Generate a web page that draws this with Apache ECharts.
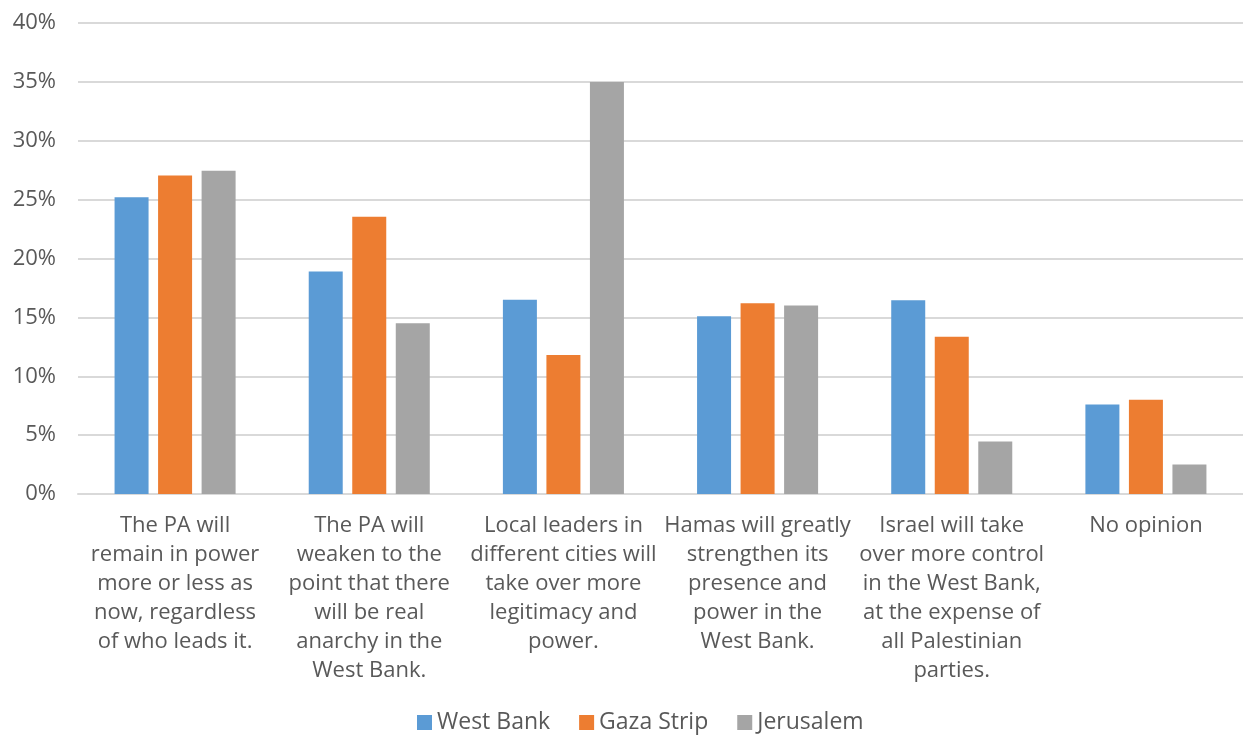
<!DOCTYPE html>
<html>
<head>
<meta charset="utf-8">
<script src="https://cdn.jsdelivr.net/npm/echarts@6/dist/echarts.min.js"></script>
<style>
html,body{margin:0;padding:0;background:#fff;}
#c{width:1243px;height:735px;}
</style>
</head>
<body>
<div id="c"></div>
<script>
var categories = [
  "The PA will\nremain in power\nmore or less as\nnow, regardless\nof who leads it.",
  "The PA will\nweaken to the\npoint that there\nwill be real\nanarchy in the\nWest Bank.",
  "Local leaders in\ndifferent cities will\ntake over more\nlegitimacy and\npower.",
  "Hamas will greatly\nstrengthen its\npresence and\npower in the\nWest Bank.",
  "Israel will take\nover more control\nin the West Bank,\nat the expense of\nall Palestinian\nparties.",
  "No opinion"
];
var seriesNames = ["West Bank", "Gaza Strip", "Jerusalem"];
var westBank = [25.2, 18.9, 16.5, 15.1, 16.45, 7.6];
var gazaStrip = [27.05, 23.55, 11.8, 16.2, 13.35, 8.0];
var jerusalem = [27.45, 14.5, 35.0, 16.0, 4.45, 2.5];
var yTicks = [0, 5, 10, 15, 20, 25, 30, 35, 40];

var colors = ["#5B9BD5", "#ED7D31", "#A5A5A5"];
var font = "'Open Sans', sans-serif";
var chart = echarts.init(document.getElementById('c'), null, {renderer: 'canvas'});
var dataSets = [westBank, gazaStrip, jerusalem];
chart.setOption({
  animation: false,
  color: colors,
  grid: {left: 78, top: 23, width: 1169, height: 471, containLabel: false},
  legend: {
    top: 706,
    left: 412,
    icon: 'rect',
    itemWidth: 15,
    itemHeight: 15,
    itemGap: 29,
    textStyle: {color: '#595959', fontSize: 23, fontFamily: font},
    data: seriesNames
  },
  xAxis: {
    type: 'category',
    data: categories,
    axisLine: {show: true, lineStyle: {color: '#D9D9D9', width: 2}},
    axisTick: {show: false},
    axisLabel: {
      interval: 0,
      color: '#595959',
      fontSize: 22,
      fontFamily: font,
      lineHeight: 29,
      margin: 17,
      align: 'center'
    }
  },
  yAxis: {
    type: 'value',
    min: yTicks[0],
    max: yTicks[yTicks.length - 1],
    interval: 5,
    axisLine: {show: false},
    axisTick: {show: false},
    splitLine: {lineStyle: {color: '#D9D9D9', width: 2}},
    axisLabel: {
      formatter: function (v) { return v + '%'; },
      color: '#595959',
      fontSize: 22,
      fontFamily: font,
      margin: 22
    }
  },
  series: seriesNames.map(function (n, i) {
    return {
      name: n,
      type: 'bar',
      data: dataSets[i],
      barWidth: 34,
      barGap: '28%',
      itemStyle: {color: colors[i]}
    };
  })
});
</script>
</body>
</html>
